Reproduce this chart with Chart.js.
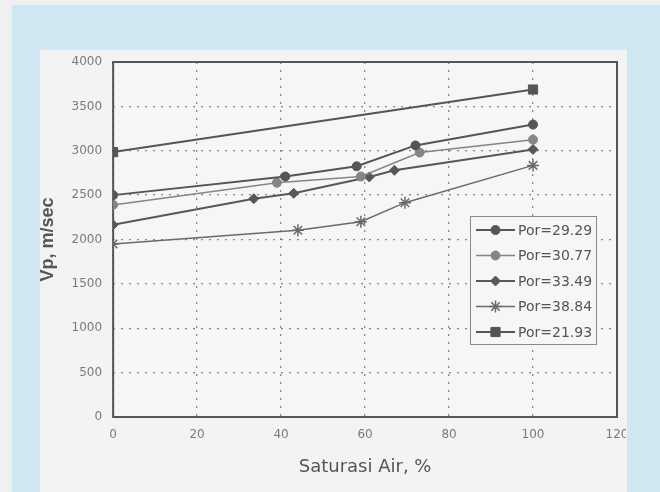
<!DOCTYPE html>
<html>
<head>
<meta charset="utf-8">
<script src="https://cdn.jsdelivr.net/npm/chart.js@4/dist/chart.umd.min.js"></script>
<style>
  html, body { margin: 0; padding: 0; }
  body { width: 660px; height: 492px; background: #eef1ef; position: relative; overflow: hidden; }
  #blue { position: absolute; left: 12px; top: 5px; width: 648px; height: 487px; background: #d0e8f3; }
  #panel { position: absolute; left: 40px; top: 50px; width: 587px; height: 442px; background: #f1f4f3; }
  #wrap { position: absolute; left: 0; top: 0; width: 626px; height: 492px; overflow: hidden; }
  canvas { display: block; }
</style>
</head>
<body>
<div id="blue"></div>
<div id="panel"></div>
<div id="wrap"><canvas id="c" width="660" height="492"></canvas></div>
<script>
// ---- data ----
const seriesLabels = ["Por=29.29", "Por=30.77", "Por=33.49", "Por=38.84", "Por=21.93"];

const sat2929 = [0, 41, 58, 72, 100];
const vp2929  = [2500, 2710, 2825, 3060, 3295];

const sat3077 = [0, 39, 59, 73, 100];
const vp3077  = [2390, 2640, 2710, 2980, 3125];

const sat3349 = [0, 33.5, 43, 61, 67, 100];
const vp3349  = [2165, 2460, 2520, 2705, 2780, 3015];

const sat3884 = [0, 44, 59, 69.5, 100];
const vp3884  = [1950, 2105, 2200, 2415, 2835];

const sat2193 = [0, 100];
const vp2193  = [2985, 3690];

const xTicks = [0, 20, 40, 60, 80, 100, 120];
const yTicks = [0, 500, 1000, 1500, 2000, 2500, 3000, 3500, 4000];

function pts(xs, ys) { return xs.map((x, i) => ({ x: x, y: ys[i] })); }

const styles = [
  { color: '#555555', width: 2,   style: 'circle',  radius: 4.5 },
  { color: '#858585', width: 1.5, style: 'circle',  radius: 4.5 },
  { color: '#585858', width: 2,   style: 'rectRot', radius: 5 },
  { color: '#6a6a6a', width: 1.5, style: 'star',    radius: 6 },
  { color: '#555555', width: 2,   style: 'rect',    radius: 6.5 }
];
const seriesData = [
  pts(sat2929, vp2929), pts(sat3077, vp3077), pts(sat3349, vp3349),
  pts(sat3884, vp3884), pts(sat2193, vp2193)
];

const datasets = seriesLabels.map((lab, i) => ({
  label: lab,
  data: seriesData[i],
  showLine: true,
  borderColor: styles[i].color,
  backgroundColor: styles[i].color,
  borderWidth: styles[i].width,
  pointStyle: styles[i].style,
  pointRadius: styles[i].radius,
  pointBorderWidth: styles[i].style === 'star' ? 1.5 : 1,
  pointBorderColor: styles[i].color,
  pointBackgroundColor: styles[i].color,
  tension: 0
}));

const plotBgAndFrame = {
  id: 'plotBgAndFrame',
  beforeDraw(chart) {
    const a = chart.chartArea, ctx = chart.ctx;
    ctx.save();
    ctx.fillStyle = '#f5f7f7';
    ctx.fillRect(a.left, a.top, a.right - a.left, a.bottom - a.top);
    ctx.restore();
  },
  beforeDatasetsDraw(chart) {
    const a = chart.chartArea, ctx = chart.ctx;
    ctx.save();
    ctx.strokeStyle = '#555555';
    ctx.lineWidth = 2;
    ctx.strokeRect(a.left, a.top, a.right - a.left, a.bottom - a.top);
    ctx.restore();
  }
};

const insideLegend = {
  id: 'insideLegend',
  afterDatasetsDraw(chart) {
    const a = chart.chartArea, ctx = chart.ctx;
    const boxR = a.right - 21, boxW = 126, boxL = boxR - boxW;
    const boxT = a.top + 154, boxH = 128;
    ctx.save();
    ctx.fillStyle = '#f5f7f7';
    ctx.fillRect(boxL, boxT, boxW, boxH);
    ctx.strokeStyle = '#8a8a8a';
    ctx.lineWidth = 1;
    ctx.strokeRect(boxL + 0.5, boxT + 0.5, boxW, boxH);
    chart.data.datasets.forEach((ds, i) => {
      const y = boxT + 14 + i * 25.5;
      const x0 = boxL + 6, x1 = boxL + 45;
      ctx.strokeStyle = ds.borderColor;
      ctx.lineWidth = ds.borderWidth;
      ctx.beginPath(); ctx.moveTo(x0, y); ctx.lineTo(x1, y); ctx.stroke();
      ctx.fillStyle = ds.pointBackgroundColor;
      ctx.strokeStyle = ds.pointBorderColor;
      ctx.lineWidth = ds.pointBorderWidth;
      Chart.helpers.drawPoint(ctx, { pointStyle: ds.pointStyle, radius: ds.pointRadius, rotation: 0, borderWidth: ds.pointBorderWidth }, (x0 + x1) / 2, y);
      ctx.fillStyle = '#555555';
      ctx.font = '14px "DejaVu Sans"';
      ctx.textBaseline = 'middle';
      ctx.textAlign = 'left';
      ctx.fillText(ds.label, x1 + 3, y + 1);
    });
    ctx.restore();
  }
};

const gridOpts = {
  color: '#888888',
  lineWidth: 1.3,
  drawTicks: false
};

new Chart(document.getElementById('c'), {
  type: 'scatter',
  data: { datasets: datasets },
  options: {
    responsive: false,
    animation: false,
    layout: { padding: { left: 37, right: 43, top: 62, bottom: 14 } },
    plugins: { legend: { display: false }, tooltip: { enabled: false } },
    scales: {
      x: {
        type: 'linear', min: 0, max: 120,
        afterBuildTicks(scale) { scale.ticks = xTicks.map(v => ({ value: v })); },
        grid: gridOpts,
        border: { display: false, dash: [2, 6] },
        ticks: { color: '#7a7a7a', font: { family: 'DejaVu Sans', size: 12 }, padding: 11,
                 callback: v => String(v) },
        title: { display: true, text: 'Saturasi Air, %', color: '#555555',
                 font: { family: 'DejaVu Sans', size: 18 }, padding: { top: 3, bottom: 0 } }
      },
      y: {
        type: 'linear', min: 0, max: 4000,
        afterBuildTicks(scale) { scale.ticks = yTicks.map(v => ({ value: v })); },
        grid: gridOpts,
        border: { display: false, dash: [2, 6] },
        ticks: { color: '#7a7a7a', font: { family: 'DejaVu Sans', size: 12 }, padding: 11,
                 callback: v => String(v) },
        title: { display: true, text: 'Vp, m/sec', color: '#555555',
                 font: { family: 'Liberation Sans', size: 18, weight: 'bold' }, padding: { top: 0, bottom: 2 } }
      }
    }
  },
  plugins: [plotBgAndFrame, insideLegend]
});
</script>
</body>
</html>
